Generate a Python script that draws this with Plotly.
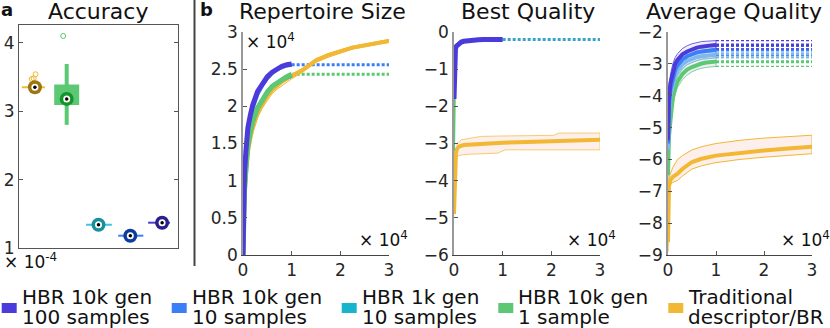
import plotly.graph_objects as go

W, H = 830, 328
FONT = "DejaVu Sans"

# ---- colours
PURPLE, BLUE, CYAN, GREEN, GOLD = "#4B3BDB", "#3A7FF5", "#18B4CC", "#5CC873", "#F2B733"
DARK = {"gold": "#9C7412", "green": "#14952C", "cyan": "#17909C", "blue": "#0C3C9E", "purple": "#2B1F8C"}

# ---- panel a: accuracy (x 1e-4)
acc_cats = [1, 2, 3, 4, 5]
acc_median = [3.35, 3.18, 1.34, 1.18, 1.37]
acc_dark = [DARK["gold"], DARK["green"], DARK["cyan"], DARK["blue"], DARK["purple"]]
green_q1, green_q3 = 3.09, 3.39
green_lo, green_hi = 2.80, 3.69
spread_cats = [1, 3, 4, 5]
spread_lo = [0.59, 2.61, 3.62, 4.56]
spread_hi = [1.31, 3.42, 4.41, 5.25]
spread_col = [GOLD, "#3CC6DE", BLUE, PURPLE]
gold_out_x = [0.9, 0.96, 1.02]
gold_out_y = [3.47, 3.48, 3.54]
green_out_x = [1.89]
green_out_y = [4.10]

# ---- panel b: x in units of 1e4
hbr_x = [0, 0.01, 0.03, 0.06, 0.1, 0.15, 0.2, 0.3, 0.4, 0.5, 0.6, 0.7, 0.8, 0.9, 1.0]
rep_purple = [0, 0.75, 1.1, 1.4, 1.71, 1.88, 2.02, 2.2, 2.31, 2.4, 2.46, 2.51, 2.54, 2.56, 2.57]
rep_blue = [0, 0.7, 1.05, 1.35, 1.66, 1.84, 1.98, 2.17, 2.29, 2.38, 2.45, 2.5, 2.53, 2.55, 2.56]
rep_cyan = [0, 0.55, 0.85, 1.15, 1.45, 1.65, 1.79, 1.98, 2.1, 2.2, 2.27, 2.32, 2.36, 2.39, 2.41]
rep_green = [0, 0.55, 0.85, 1.15, 1.48, 1.66, 1.8, 1.98, 2.09, 2.19, 2.27, 2.32, 2.37, 2.4, 2.43]
trad_x = [0, 0.01, 0.03, 0.06, 0.1, 0.15, 0.2, 0.3, 0.4, 0.5, 0.6, 0.7, 0.8, 0.9, 1.0,
          1.25, 1.5, 1.75, 2.0, 2.25, 2.5, 2.75, 3.0]
rep_trad = [0, 0.5, 0.8, 1.08, 1.38, 1.57, 1.71, 1.91, 2.04, 2.14, 2.22, 2.28, 2.33, 2.37, 2.41,
            2.5, 2.62, 2.69, 2.74, 2.79, 2.82, 2.85, 2.88]
rep_trad_hi = [0, 0.55, 0.86, 1.14, 1.44, 1.62, 1.76, 1.95, 2.08, 2.18, 2.25, 2.31, 2.36, 2.4, 2.43,
               2.52, 2.64, 2.71, 2.76, 2.81, 2.84, 2.87, 2.9]
rep_trad_lo = [0, 0.45, 0.74, 1.0, 1.3, 1.49, 1.64, 1.85, 1.98, 2.08, 2.17, 2.23, 2.28, 2.33, 2.37,
               2.47, 2.59, 2.66, 2.71, 2.77, 2.8, 2.83, 2.86]

best_x = [0, 0.01, 0.02, 0.03, 0.05, 0.1, 0.15, 0.2, 0.3, 0.4, 0.5, 0.6, 0.8, 1.0]
best_purple = [-1.8, -1.0, -0.6, -0.45, -0.38, -0.31, -0.27, -0.25, -0.23, -0.22, -0.21, -0.205, -0.2, -0.2]
best_green = [-3.2, -1.5, -0.8, -0.5, -0.4, -0.32, -0.28, -0.26, -0.23, -0.22, -0.21, -0.205, -0.2, -0.2]
best_trad_x = [0, 0.02, 0.04, 0.06, 0.1, 0.2, 0.4, 0.6, 1.0, 1.5, 2.0, 2.5, 3.0]
best_trad = [-4.9, -3.6, -3.25, -3.15, -3.08, -3.04, -3.02, -3.0, -2.98, -2.96, -2.94, -2.92, -2.9]
band_x = [0.04, 0.1, 0.15, 0.3, 0.45, 0.55, 0.9, 1.05, 2.05, 2.15, 3.0]
best_trad_hi = [-3.02, -2.97, -2.9, -2.86, -2.83, -2.81, -2.8, -2.8, -2.78, -2.72, -2.72]
best_trad_lo = [-3.35, -3.33, -3.31, -3.29, -3.28, -3.27, -3.26, -3.17, -3.17, -3.17, -3.17]

avg_x = [0, 0.01, 0.02, 0.05, 0.1, 0.15, 0.2, 0.3, 0.4, 0.5, 0.6, 0.7, 0.8, 0.9, 1.0]
avg_purple = [-5.4, -4.6, -4.1, -3.6, -3.23, -3.0, -2.87, -2.7, -2.61, -2.54, -2.49, -2.46, -2.43, -2.42, -2.41]
avg_purple_hi = [-5.0, -4.2, -3.8, -3.35, -3.0, -2.8, -2.68, -2.52, -2.43, -2.37, -2.33, -2.3, -2.29, -2.28, -2.27]
avg_purple_lo = [-5.6, -4.9, -4.4, -3.85, -3.45, -3.2, -3.05, -2.87, -2.76, -2.68, -2.62, -2.59, -2.56, -2.54, -2.53]
avg_blue = [-5.5, -4.8, -4.3, -3.8, -3.42, -3.18, -3.04, -2.86, -2.76, -2.69, -2.64, -2.61, -2.59, -2.57, -2.56]
avg_blue_hi = [-5.2, -4.5, -4.0, -3.55, -3.2, -2.98, -2.85, -2.68, -2.59, -2.53, -2.5, -2.48, -2.47, -2.46, -2.45]
avg_blue_lo = [-5.8, -5.1, -4.6, -4.05, -3.65, -3.4, -3.25, -3.05, -2.94, -2.87, -2.82, -2.79, -2.77, -2.76, -2.75]
avg_cyan = [-5.7, -5.0, -4.5, -4.0, -3.6, -3.36, -3.21, -3.02, -2.91, -2.84, -2.79, -2.76, -2.74, -2.72, -2.71]
avg_cyan_hi = [-5.5, -4.8, -4.3, -3.8, -3.45, -3.22, -3.08, -2.9, -2.8, -2.74, -2.7, -2.67, -2.65, -2.64, -2.63]
avg_cyan_lo = [-5.9, -5.2, -4.7, -4.2, -3.75, -3.5, -3.34, -3.14, -3.02, -2.95, -2.9, -2.86, -2.84, -2.82, -2.81]
avg_green = [-6.5, -5.8, -5.3, -4.8, -4.07, -3.75, -3.55, -3.32, -3.18, -3.1, -3.03, -2.99, -2.96, -2.94, -2.93]
avg_green_hi = [-6.2, -5.5, -5.0, -4.5, -3.85, -3.56, -3.38, -3.16, -3.03, -2.95, -2.89, -2.85, -2.83, -2.81, -2.8]
avg_green_lo = [-6.7, -6.1, -5.6, -5.1, -4.3, -3.95, -3.73, -3.5, -3.35, -3.25, -3.18, -3.14, -3.11, -3.09, -3.08]
avg_trad_x = [0, 0.01, 0.02, 0.05, 0.1, 0.2, 0.3, 0.5, 0.7, 1.0, 1.5, 2.0, 2.5, 3.0]
avg_trad = [-8.6, -7.4, -6.85, -6.65, -6.55, -6.45, -6.3, -6.08, -5.98, -5.88, -5.79, -5.72, -5.66, -5.6]
avg_trad_hi = [-8.3, -7.1, -6.6, -6.45, -6.25, -6.0, -5.88, -5.7, -5.6, -5.5, -5.4, -5.33, -5.28, -5.24]
avg_trad_lo = [-8.9, -7.7, -7.1, -6.78, -6.72, -6.66, -6.52, -6.3, -6.2, -6.1, -6.0, -5.93, -5.87, -5.82]

legend_names = [("HBR 10k gen", "100 samples"), ("HBR 10k gen", "10 samples"),
                ("HBR 1k gen", "10 samples"), ("HBR 10k gen", "1 sample"),
                ("Traditional", "descriptor/BR")]
legend_colors = [PURPLE, BLUE, CYAN, GREEN, GOLD]
legend_left = [1.7, 171.7, 341.7, 498.3, 668.3]

fig = go.Figure()


def fx(p):
    return p / W


def fy(p):
    return 1 - p / H


def line(ax, x, y, color, width, dash=None, fill=None, fillcolor=None):
    fig.add_trace(go.Scatter(x=x, y=y, mode="lines", xaxis="x" + ax, yaxis="y" + ax,
                             line=dict(color=color, width=width, dash=dash),
                             fill=fill, fillcolor=fillcolor,
                             hoverinfo="skip", showlegend=False))


def dots(ax, x, y, color, size, open_=False):
    fig.add_trace(go.Scatter(x=x, y=y, mode="markers", xaxis="x" + ax, yaxis="y" + ax,
                             marker=dict(color="rgba(0,0,0,0)" if open_ else color, size=size,
                                         line=dict(color=color, width=1 if open_ else 0)),
                             hoverinfo="skip", showlegend=False))


def band(ax, x, hi, lo, color, fillcolor, width=1):
    line(ax, x + x[::-1], hi + lo[::-1], color, width, fill="toself", fillcolor=fillcolor)


DOT = "3px,2px"

# ---- panel a
for c, lo, hi, col in zip(spread_cats, spread_lo, spread_hi, spread_col):
    line("", [lo, hi], [acc_median[c - 1], acc_median[c - 1]], col, 2)
line("", [2, 2], [green_lo, green_hi], GREEN, 4)
line("", [2, 2], [green_q1, green_q3], GREEN, 25)
dots("", gold_out_x, gold_out_y, GOLD, 5, open_=True)
dots("", green_out_x, green_out_y, GREEN, 5, open_=True)
fig.add_trace(go.Scatter(x=acc_cats, y=acc_median, mode="markers", xaxis="x", yaxis="y",
                         marker=dict(color=acc_dark, size=14, line=dict(width=0)),
                         hoverinfo="skip", showlegend=False))
dots("", acc_cats, acc_median, "white", 7)
dots("", acc_cats, acc_median, "black", 3.5)

# ---- repertoire size
line("2", [1, 3], [rep_blue[-1], rep_blue[-1]], BLUE, 3, DOT)
line("2", [1, 3], [rep_green[-1], rep_green[-1]], GREEN, 3, DOT)
line("2", trad_x, rep_trad_lo, GOLD, 1)
line("2", trad_x, rep_trad_hi, GOLD, 1)
line("2", trad_x, rep_trad, GOLD, 4)
line("2", hbr_x, rep_cyan, CYAN, 4)
line("2", hbr_x, rep_blue, BLUE, 4)
line("2", hbr_x, rep_green, GREEN, 5)
line("2", hbr_x, rep_purple, PURPLE, 5)

# ---- best quality
line("3", [1, 3], [best_green[-1], best_green[-1]], "#3AA4C8", 3, DOT)
band("3", band_x, best_trad_hi, best_trad_lo, "#F6CC70", "rgba(250,228,224,0.6)")
line("3", best_trad_x, best_trad, GOLD, 4)
line("3", best_x, best_green, GREEN, 2)
line("3", best_x, best_purple, PURPLE, 5)

# ---- average quality
hbr_sets = [(avg_green, avg_green_hi, avg_green_lo, GREEN),
            (avg_cyan, avg_cyan_hi, avg_cyan_lo, "#7FB8F0"),
            (avg_blue, avg_blue_hi, avg_blue_lo, BLUE),
            (avg_purple, avg_purple_hi, avg_purple_lo, PURPLE)]
for m, hi, lo, col in hbr_sets:
    band("4", avg_x, hi, lo, col, "rgba(215,205,240,0.35)", 0.8)
for m, hi, lo, col in hbr_sets:
    line("4", [1, 3], [hi[-1], hi[-1]], col, 1.2, DOT)
    line("4", [1, 3], [lo[-1], lo[-1]], col, 1.2, DOT)
    line("4", [1, 3], [m[-1], m[-1]], col, 3, DOT)
for m, hi, lo, col in hbr_sets:
    line("4", avg_x, m, col, 4)
band("4", avg_trad_x, avg_trad_hi, avg_trad_lo, GOLD, "rgba(250,228,224,0.6)")
line("4", avg_trad_x, avg_trad, GOLD, 4)

# ---- axes
tickfont = dict(family=FONT, size=17, color="#262626")
base = dict(showgrid=False, zeroline=False, showline=True, ticks="inside", ticklen=4,
            tickfont=tickfont, tickcolor="#555", fixedrange=True, automargin=False)

layout_axes = dict(
    xaxis=dict(base, domain=[fx(19), fx(178)], anchor="y", range=[0.5, 5.5], ticks="",
               showticklabels=False, mirror=True, linecolor="#555", linewidth=1),
    yaxis=dict(base, domain=[fy(248), fy(25)], anchor="x", range=[1, 4.26], tickvals=[1, 2, 3, 4],
               mirror="ticks", linecolor="#555", linewidth=1),
)
panels = [("2", 243, 389, [0, 3], [0, 0.5, 1, 1.5, 2, 2.5, 3], ["0", "0.5", "1", "1.5", "2", "2.5", "3"]),
          ("3", 454, 600, [-6, 0], [-6, -5, -4, -3, -2, -1, 0], None),
          ("4", 668, 812, [-9, -2], [-9, -8, -7, -6, -5, -4, -3, -2], None)]
for ax, x0, x1, yr, tv, tt in panels:
    layout_axes["xaxis" + ax] = dict(base, domain=[fx(x0), fx(x1)], anchor="y" + ax, range=[0, 3],
                                     tickvals=[0, 1, 2, 3], linecolor="#444", linewidth=1)
    yd = dict(base, domain=[fy(255), fy(32)], anchor="x" + ax, range=yr, tickvals=tv,
              linecolor="#999", linewidth=1.5)
    if tt:
        yd["ticktext"] = tt
    layout_axes["yaxis" + ax] = yd

# ---- text
ann = []


def text(s, x, y, size=17, xanchor="center", yanchor="middle", bold=False):
    ann.append(dict(text="<b>%s</b>" % s if bold else s, x=fx(x), y=fy(y), xref="paper", yref="paper",
                    xanchor=xanchor, yanchor=yanchor, showarrow=False,
                    font=dict(family=FONT, size=size, color="#111")))


text("a", -1, 9, 18, "left", bold=True)
text("b", 198, 9, 18, "left", bold=True)
text("Accuracy", 97.5, 11, 22)
text("Repertoire Size", 322.5, 11, 22)
text("Best Quality", 528, 11, 22)
text("Average Quality", 734, 11, 22)
text("× 10<sup>-4</sup>", 2, 261, 17, "left")
text("× 10<sup>4</sup>", 244, 41, 17, "left")
text("× 10<sup>4</sup>", 357, 239, 17, "left")
text("× 10<sup>4</sup>", 565, 239, 17, "left")
text("× 10<sup>4</sup>", 779, 239, 17, "left")

shapes = [dict(type="line", xref="paper", yref="paper", x0=fx(194.5), x1=fx(194.5), y0=fy(0), y1=fy(266),
               line=dict(color="#444", width=2))]
for (l1, l2), col, left in zip(legend_names, legend_colors, legend_left):
    shapes.append(dict(type="rect", xref="paper", yref="paper", x0=fx(left), x1=fx(left + 15),
                       y0=fy(313), y1=fy(303), fillcolor=col, line=dict(width=0)))
    text(l1, left + 18, 297, 20, "left")
    text(l2, left + 18, 316.5, 20, "left")

fig.update_layout(width=W, height=H, margin=dict(l=0, r=0, t=0, b=0, autoexpand=False),
                  paper_bgcolor="white", plot_bgcolor="white", showlegend=False,
                  annotations=ann, shapes=shapes, **layout_axes)

# the page body has a default 8px margin; remove it so the figure sits at 0,0
fig.write_html("out.html", config={"displayModeBar": False},
               post_script="document.body.style.margin='0';")
